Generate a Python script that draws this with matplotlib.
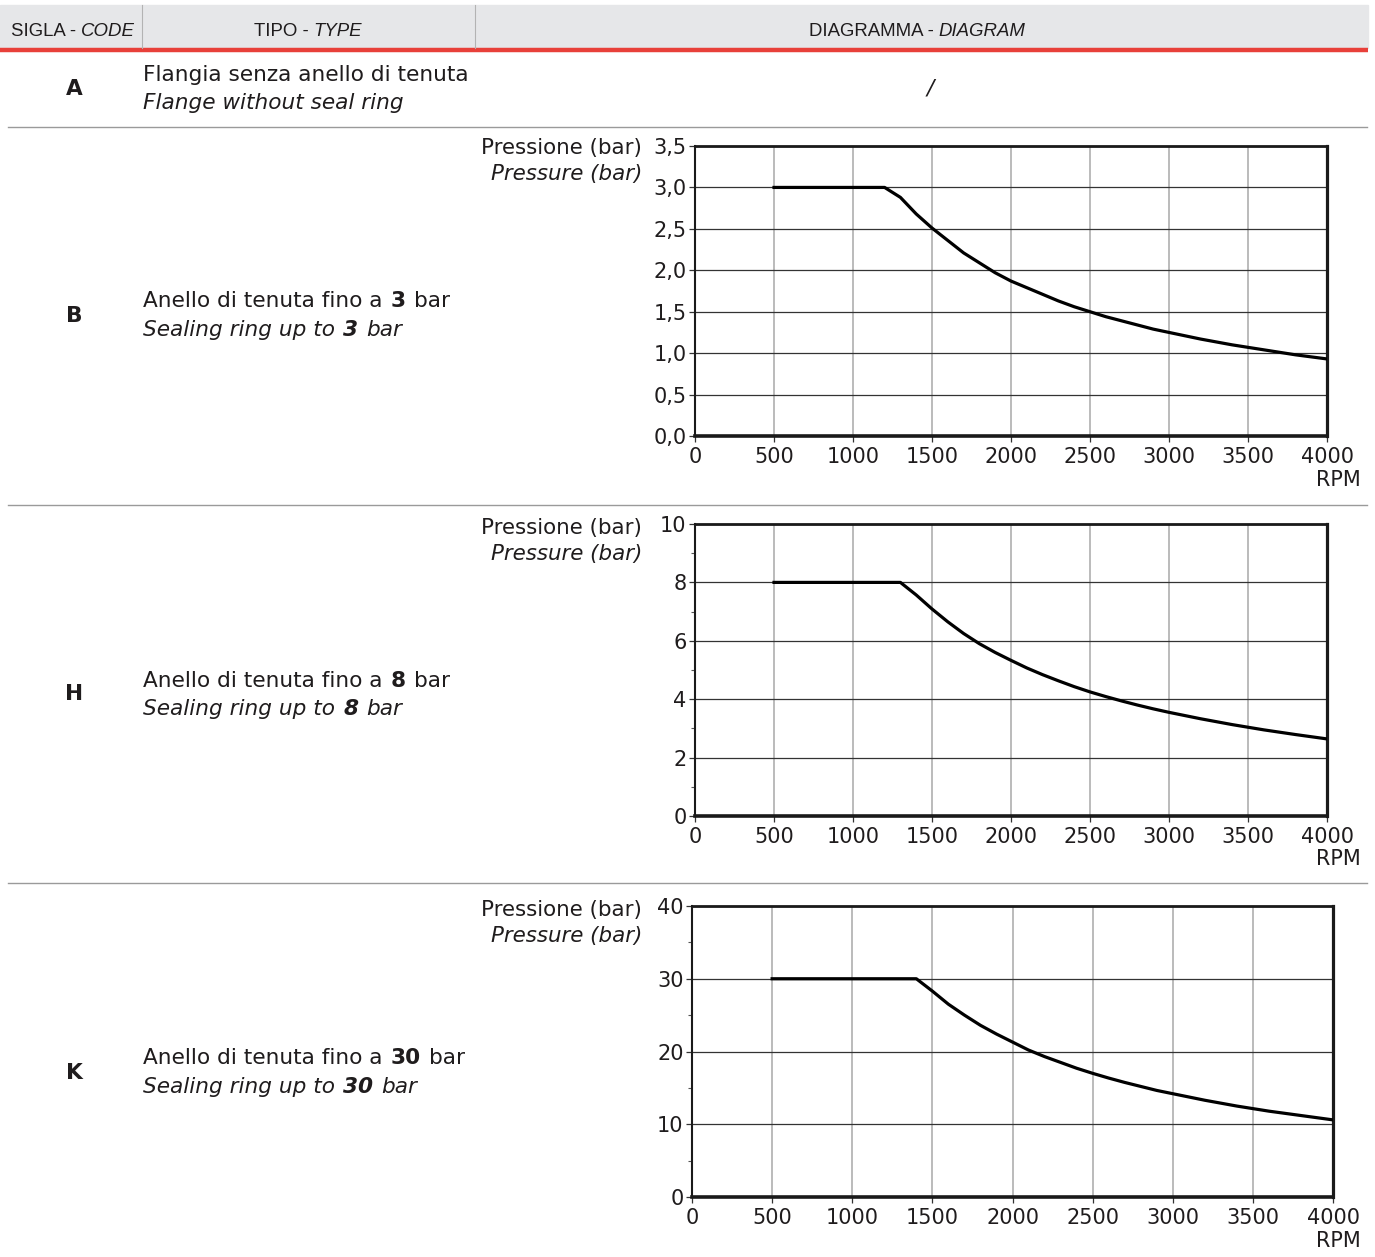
import numpy as np
import matplotlib
matplotlib.use('Agg')
import matplotlib.pyplot as plt
from matplotlib.patches import Rectangle

# --- data ------------------------------------------------------------------
codes = ['A', 'B', 'H', 'K']
rpm_ticks = [0, 500, 1000, 1500, 2000, 2500, 3000, 3500, 4000]

rpm_b = [500, 1200, 1300, 1400, 1500, 1600, 1700, 1800, 1900, 2000, 2100, 2200, 2300, 2400,
         2500, 2600, 2700, 2800, 2900, 3000, 3200, 3400, 3600, 3800, 4000]
bar_b = [3.0, 3.0, 2.88, 2.68, 2.51, 2.36, 2.21, 2.09, 1.97, 1.87, 1.79, 1.71, 1.63, 1.56,
         1.50, 1.44, 1.39, 1.34, 1.29, 1.25, 1.17, 1.10, 1.04, 0.98, 0.93]
yticks_b = [0, 0.5, 1.0, 1.5, 2.0, 2.5, 3.0, 3.5]
ylabels_b = ['0,0', '0,5', '1,0', '1,5', '2,0', '2,5', '3,0', '3,5']

rpm_h = [500, 1300, 1400, 1500, 1600, 1700, 1800, 1900, 2000, 2100, 2200, 2300, 2400,
         2500, 2600, 2700, 2800, 2900, 3000, 3200, 3400, 3600, 3800, 4000]
bar_h = [8.0, 8.0, 7.57, 7.09, 6.65, 6.25, 5.90, 5.60, 5.33, 5.07, 4.84, 4.63, 4.43,
         4.25, 4.09, 3.94, 3.80, 3.67, 3.55, 3.33, 3.13, 2.95, 2.79, 2.64]
yticks_h = [0, 2, 4, 6, 8, 10]
minor_h = [1, 3, 5, 7, 9]

rpm_k = [500, 1400, 1500, 1600, 1700, 1800, 1900, 2000, 2100, 2200, 2300, 2400,
         2500, 2600, 2700, 2800, 2900, 3000, 3200, 3400, 3600, 3800, 4000]
bar_k = [30, 30, 28.3, 26.5, 25.0, 23.6, 22.4, 21.3, 20.2, 19.3, 18.5, 17.7,
         17.0, 16.35, 15.75, 15.2, 14.65, 14.2, 13.3, 12.5, 11.8, 11.2, 10.6]
yticks_k = [0, 10, 20, 30, 40]
minor_k = [5, 15, 25, 35]

W, H = 1375, 1257
TXT = '#1f1c1d'
HEAD_FONT = ['Liberation Sans', 'DejaVu Sans']
BODY_FONT = ['DejaVu Sans']

fig = plt.figure(figsize=(W / 100, H / 100), dpi=100)
bg = fig.add_axes([0, 0, 1, 1])
bg.set_xlim(0, W)
bg.set_ylim(H, 0)
bg.axis('off')


def rich(x, y, parts, size=15.6, family=BODY_FONT):
    # parts: (text, weight, style, gap before in points)
    s, w, st, _ = parts[0]
    t = bg.text(x, y, s, fontsize=size, weight=w, style=st, family=family,
                color=TXT, ha='left', va='center')
    for s, w, st, gap in parts[1:]:
        t = bg.annotate(s, xy=(1, 0), xycoords=t, xytext=(gap, 0), textcoords='offset points',
                        fontsize=size, weight=w, style=st, family=family, color=TXT,
                        ha='left', va='bottom')
    return t


# header band
bg.add_patch(Rectangle((0, 5), 1368, 43, color='#e6e7e9', zorder=0))
bg.plot([0, 1368], [50, 50], color='#e8403a', lw=3.2, solid_capstyle='butt')
for xs in [142, 475]:
    bg.plot([xs, xs], [5, 48], color='#b3b3b3', lw=0.8)
sp = 3.6
hy = 31
rich(11, hy, [('SIGLA -', 'normal', 'normal', 0), ('CODE', 'normal', 'italic', sp)], size=13.4, family=HEAD_FONT)
rich(254, hy, [('TIPO -', 'normal', 'normal', 0), ('TYPE', 'normal', 'italic', sp)], size=13.4, family=HEAD_FONT)
rich(809, hy, [('DIAGRAMMA -', 'normal', 'normal', 0), ('DIAGRAM', 'normal', 'italic', sp)], size=13.4, family=HEAD_FONT)

# row separators
for ys in [127, 505, 883]:
    bg.plot([8, 1367], [ys, ys], color='#9a9a9a', lw=1)

# row texts
gap = 6.0
code_y = [89, 316, 694, 1073]
for c, yy in zip(codes, code_y):
    bg.text(74, yy, c, fontsize=15.6, weight='bold', color=TXT, ha='center', va='center')

bg.text(143, 75, 'Flangia senza anello di tenuta', fontsize=15.6, color=TXT, ha='left', va='center')
bg.text(143, 103, 'Flange without seal ring', fontsize=15.6, style='italic', color=TXT, ha='left', va='center')
bg.text(930, 89, '/', fontsize=15.6, style='italic', color=TXT, ha='center', va='center')

for val, y1, y2 in [('3', 301, 330), ('8', 681, 709), ('30', 1058, 1087)]:
    rich(143, y1, [('Anello di tenuta fino a', 'normal', 'normal', 0),
                   (val, 'bold', 'normal', gap), ('bar', 'normal', 'normal', gap)])
    rich(143, y2, [('Sealing ring up to', 'normal', 'italic', 0),
                   (val, 'bold', 'italic', gap), ('bar', 'normal', 'italic', gap)])


def chart(left, top, right, bottom, x, y, yticks, ylabels, minor, lab_y, rpm_y):
    ax = fig.add_axes([left / W, 1 - bottom / H, (right - left) / W, (bottom - top) / H])
    ax.set_xlim(0, 4000)
    ax.set_ylim(yticks[0], yticks[-1])
    ax.set_xticks(rpm_ticks)
    ax.set_xticklabels([str(v) for v in rpm_ticks])
    ax.set_yticks(yticks)
    ax.set_yticklabels(ylabels)
    if minor:
        ax.set_yticks(minor, minor=True)
        ax.tick_params(axis='y', which='minor', length=3, width=0.8, color='#555555')
    ax.tick_params(axis='both', which='major', direction='out', length=4, width=0.9,
                   color='#333333', labelsize=15, labelcolor=TXT)
    ax.tick_params(axis='x', pad=4)
    ax.tick_params(axis='y', pad=2)
    ax.grid(axis='x', color='#a8a8a8', lw=1.1, zorder=1)
    ax.grid(axis='y', color='#333333', lw=0.9, zorder=1)
    ax.set_axisbelow(True)
    for side, lw in [('left', 1.5), ('bottom', 2.6), ('top', 2.0), ('right', 2.3)]:
        ax.spines[side].set_linewidth(lw)
        ax.spines[side].set_color('#1a1a1a')
    ax.plot(x, y, color='black', lw=2.3, solid_joinstyle='round', zorder=3)
    bg.text(642, lab_y, 'Pressione (bar)', fontsize=15.4, color=TXT, ha='right', va='center')
    bg.text(642, lab_y + 26, 'Pressure (bar)', fontsize=15.4, style='italic', color=TXT,
            ha='right', va='center')
    bg.text(1361, rpm_y, 'RPM', fontsize=15, color=TXT, ha='right', va='center')
    return ax


chart(695, 146, 1327, 436, rpm_b, bar_b, yticks_b, ylabels_b, None, 148, 480)
chart(695, 524, 1327, 816, rpm_h, bar_h, yticks_h, [str(v) for v in yticks_h], minor_h, 528, 859)
chart(692, 906, 1333, 1197, rpm_k, bar_k, yticks_k, [str(v) for v in yticks_k], minor_k, 910, 1241)

fig.savefig('out.png', dpi=100)
